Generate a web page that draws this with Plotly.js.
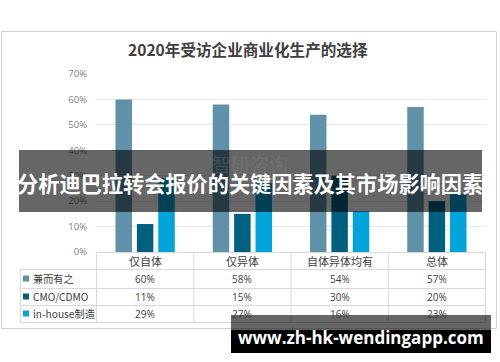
<!DOCTYPE html>
<html><head><meta charset="utf-8">
<script src="https://cdn.plot.ly/plotly-3.0.1.min.js"></script>
<style>html,body{margin:0;padding:0;background:#fff}#c{width:500px;height:362px}</style>
</head><body><div id="c"></div>
<script>
const chartTitle = '2020年受访企业商业化生产的选择';
const categories = ['仅自体', '仅异体', '自体异体均有', '总体'];
const seriesNames = ['兼而有之', 'CMO/CDMO', 'in-house制造'];
const seriesBoth = [0.60, 0.58, 0.54, 0.57];
const seriesCMO = [0.11, 0.15, 0.30, 0.20];
const seriesInHouse = [0.29, 0.27, 0.16, 0.23];
const yTickVals = [0, 0.1, 0.2, 0.3, 0.4, 0.5, 0.6, 0.7];
const bannerText = '分析迪巴拉转会报价的关键因素及其市场影响因素';
const watermarkText = 'www.zh-hk-wendingapp.com';
const faintMark = '智研咨询';

const colors = ['#5F91A8', '#00607F', '#00A3DA'];
const seriesData = [seriesBoth, seriesCMO, seriesInHouse];

const W = 500, H = 362;
const px = x => x / W;
const py = y => 1 - y / H;
const CJK = '"Noto Sans CJK SC", "Noto Sans", sans-serif';

const traces = seriesData.map((vals, i) => ({
  type: 'bar', x: categories, y: vals, name: seriesNames[i],
  marker: {color: colors[i], line: {width: 0}}, hoverinfo: 'skip'
}));

const shapes = [];
const annotations = [];
const line = '#d9d9d9';

// outer chart border
shapes.push({type: 'rect', xref: 'paper', yref: 'paper', x0: px(1.5), x1: px(496.5), y0: py(328.5), y1: py(31.5), line: {color: '#d0d0d0', width: 1}, layer: 'below'});

// table geometry (rows in px)
const rowTops = [252, 269, 288, 305, 322];
shapes.push({type: 'line', xref: 'x', yref: 'paper', x0: -0.5, x1: categories.length - 0.5, y0: py(252.5), y1: py(252.5), line: {color: line, width: 1}});
for (let r = 1; r < rowTops.length; r++) {
  shapes.push({type: 'line', xref: 'paper', yref: 'paper', x0: px(20), x1: px(486), y0: py(rowTops[r] + 0.5), y1: py(rowTops[r] + 0.5), line: {color: line, width: 1}});
}
for (let k = 0; k <= categories.length; k++) {
  shapes.push({type: 'line', xref: 'x', yref: 'paper', x0: k - 0.5, x1: k - 0.5, y0: py(252), y1: py(322.5), line: {color: line, width: 1}});
}
shapes.push({type: 'line', xref: 'paper', yref: 'paper', x0: px(20.5), x1: px(20.5), y0: py(269), y1: py(322.5), line: {color: line, width: 1}});

categories.forEach(c => annotations.push({xref: 'x', yref: 'paper', x: c, y: py(261), text: c, showarrow: false, xanchor: 'center', yanchor: 'middle', font: {family: CJK, size: 11, color: '#404040'}}));
seriesData.forEach((vals, i) => {
  const yc = (rowTops[i + 1] + rowTops[i + 2]) / 2;
  shapes.push({type: 'rect', xref: 'paper', yref: 'paper', x0: px(23), x1: px(29), y0: py(yc + 3), y1: py(yc - 3), fillcolor: colors[i], line: {width: 0}});
  annotations.push({xref: 'paper', yref: 'paper', x: px(31), y: py(yc), text: seriesNames[i], showarrow: false, xanchor: 'left', yanchor: 'middle', font: {family: CJK, size: 10.2, color: '#404040'}});
  vals.forEach((v, j) => annotations.push({xref: 'x', yref: 'paper', x: categories[j], y: py(yc), text: Math.round(v * 100) + '%', showarrow: false, xanchor: 'center', yanchor: 'middle', font: {family: '"Open Sans", sans-serif', size: 10, color: '#404040'}}));
});

annotations.push({xref: 'paper', yref: 'paper', x: px(248), y: py(49), text: '<b>' + chartTitle + '</b>', showarrow: false, xanchor: 'center', yanchor: 'middle', font: {family: CJK, size: 15.6, color: '#404040'}});

// faint watermark (under banner)
annotations.push({xref: 'paper', yref: 'paper', x: px(250), y: py(164), text: faintMark, showarrow: false, xanchor: 'center', yanchor: 'middle', font: {family: CJK, size: 19, color: 'rgba(150,150,150,0.22)'}});

shapes.push({type: 'rect', xref: 'paper', yref: 'paper', x0: px(19), x1: px(482), y0: py(212), y1: py(150), fillcolor: 'rgba(0,0,0,0.6)', line: {width: 0}, layer: 'above'});
annotations.push({xref: 'paper', yref: 'paper', x: px(250), y: py(182), text: '<b>' + bannerText + '</b>', showarrow: false, xanchor: 'center', yanchor: 'middle', font: {family: CJK, size: 21.2, color: '#ffffff'}});

shapes.push({type: 'rect', xref: 'paper', yref: 'paper', x0: px(231), x1: px(491), y0: py(330), y1: py(315), fillcolor: 'rgba(0,0,0,0.6)', line: {width: 0}, layer: 'above'});
shapes.push({type: 'rect', xref: 'paper', yref: 'paper', x0: px(231), x1: px(491), y0: py(353), y1: py(330), fillcolor: '#000000', line: {width: 0}, layer: 'above'});
annotations.push({xref: 'paper', yref: 'paper', x: px(361), y: py(337), text: '<b>' + watermarkText + '</b>', showarrow: false, xanchor: 'center', yanchor: 'middle', font: {family: '"Open Sans", sans-serif', size: 17, color: '#ffffff'}});

const layout = {
  width: W, height: H,
  margin: {l: 0, r: 0, t: 0, b: 0},
  paper_bgcolor: '#ffffff', plot_bgcolor: '#ffffff',
  showlegend: false,
  barmode: 'group', bargap: 0.34, bargroupgap: 0.23,
  xaxis: {domain: [px(96), px(486)], showticklabels: false, showgrid: false, zeroline: false, showline: false, ticks: '', fixedrange: true},
  yaxis: {domain: [py(252), py(74)], range: [0, 0.7], tickvals: yTickVals, tickformat: '.0%', showgrid: true, gridcolor: '#e8e8e8', gridwidth: 1, zeroline: false, showline: false, ticks: '', ticklabelstandoff: 8, tickfont: {family: '"Open Sans", sans-serif', size: 9.5, color: '#7f7f7f'}, fixedrange: true},
  shapes: shapes,
  annotations: annotations
};
Plotly.newPlot('c', traces, layout, {displayModeBar: false, staticPlot: true});
</script></body></html>
